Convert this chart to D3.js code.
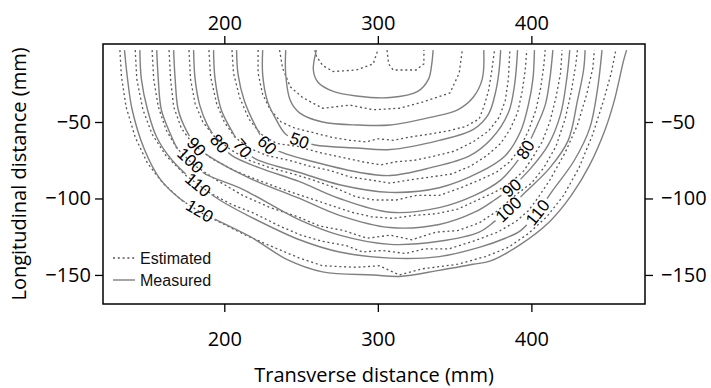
<!DOCTYPE html>
<html>
<head>
<meta charset="utf-8">
<script src="https://cdn.jsdelivr.net/npm/d3@7"></script>
<style>
  body { margin: 0; background: #fff; }
  svg { display: block; }
</style>
</head>
<body>
<svg id="chart" width="711" height="388"></svg>
<script>
// ---- Axis ticks ----
const xTicks = [200, 300, 400];
const yTicks = [-50, -100, -150];

// ---- Measured contours: [transverse mm, longitudinal mm] ----
const measured30  = [[260,-3],[258,-16],[261,-24],[271,-30],[286,-33],[308,-34],[326,-30],[333,-22],[335,-13],[336,-3]];
const measured40  = [[240,-3],[240,-19],[243,-36],[249,-44],[264,-50],[288,-52],[308,-52],[334,-47],[352,-42],[362,-34],[368,-22],[369,-3]];
const measured50  = [[225,-3],[225,-19],[228,-36],[233,-47],[240,-58],[249,-62],[259,-65],[286,-67],[308,-68],[340,-62],[362,-55],[372,-45],[377,-29],[379,-16],[380,-3]];
const measured60  = [[208,-3],[209,-19],[213,-36],[220,-52],[228,-65],[238,-70],[262,-77],[288,-83],[308,-85],[334,-80],[360,-72],[374,-61],[385,-44],[389,-26],[391,-3]];
const measured70  = [[193,-3],[194,-22],[198,-42],[205,-56],[212,-67],[220,-74],[249,-83],[275,-91],[308,-96],[340,-93],[366,-83],[383,-72],[393,-56],[398,-39],[401,-22],[402,-3]];
const measured80  = [[180,-3],[181,-22],[184,-39],[189,-52],[197,-64],[205,-72],[223,-80],[249,-89],[275,-100],[308,-109],[340,-106],[363,-98],[380,-88],[389,-78],[396,-68],[402,-56],[409,-39],[412,-22],[414,-3]];
const measured90  = [[167,-3],[168,-22],[170,-42],[175,-55],[182,-66],[191,-73],[217,-87],[249,-100],[275,-111],[308,-119],[340,-117],[363,-109],[376,-101],[387,-93],[399,-81],[411,-65],[419,-45],[423,-22],[425,-3]];
const measured100 = [[156,-3],[157,-22],[159,-42],[165,-58],[170,-68],[178,-75],[186,-83],[212,-94],[249,-114],[275,-124],[308,-130],[340,-128],[366,-122],[376,-115],[385,-107],[396,-96],[412,-80],[424,-62],[430,-36],[434,-16],[435,-3]];
const measured110 = [[145,-3],[146,-22],[150,-42],[156,-60],[166,-75],[183,-91],[197,-101],[217,-112],[249,-127],[275,-135],[308,-139],[340,-138],[366,-132],[383,-126],[393,-121],[404,-109],[413,-96],[428,-75],[438,-54],[443,-29],[446,-3]];
const measured120 = [[135,-3],[137,-22],[140,-42],[148,-68],[158,-87],[171,-100],[184,-108],[193,-113],[217,-125],[241,-140],[264,-148],[297,-150],[314,-151],[340,-147],[362,-143],[373,-141],[393,-130],[412,-115],[426,-98],[438,-78],[448,-55],[454,-36],[460,-10],[462,-3]];

// ---- Estimated contours ----
const estimated30a = [[259,-3],[260,-7],[264,-13],[271,-17],[286,-16],[297,-12],[300,-3]];
const estimated30b = [[306,-3],[307,-12],[310,-16],[325,-16],[330,-12],[330,-3]];
const estimated40  = [[236,-3],[238,-15],[243,-27],[251,-34],[264,-41],[282,-39],[297,-42],[314,-41],[329,-37],[347,-31],[353,-18],[355,-3]];
const estimated50  = [[222,-3],[222,-18],[225,-32],[230,-42],[237,-50],[246,-54],[258,-57],[270,-60],[282,-62],[292,-63],[300,-61],[310,-62],[320,-60],[333,-58],[345,-56],[357,-53],[366,-48],[369,-40],[372,-30],[374,-18],[376,-3]];
const estimated60  = [[205,-3],[206,-18],[210,-34],[216,-48],[224,-58],[234,-64],[248,-66],[262,-70],[276,-73],[290,-76],[302,-78],[312,-76],[324,-75],[338,-72],[350,-69],[362,-63],[372,-56],[379,-47],[383,-36],[385,-22],[386,-3]];
const estimated70  = [[190,-3],[191,-20],[195,-38],[200,-50],[207,-60],[216,-67],[228,-72],[242,-75],[256,-79],[270,-82],[282,-86],[296,-88],[308,-90],[320,-88],[334,-86],[348,-84],[360,-79],[371,-72],[380,-64],[386,-55],[391,-44],[394,-30],[396,-16],[397,-3]];
const estimated80  = [[177,-3],[178,-22],[181,-38],[186,-50],[194,-60],[204,-68],[216,-75],[230,-80],[245,-84],[258,-88],[272,-93],[286,-99],[298,-101],[312,-101],[325,-98],[340,-98],[354,-93],[366,-88],[377,-83],[386,-76],[392,-68],[398,-56],[403,-42],[406,-28],[408,-14],[409,-3]];
const estimated90  = [[164,-3],[165,-22],[167,-40],[172,-54],[180,-65],[192,-74],[207,-82],[222,-88],[238,-94],[253,-99],[268,-104],[283,-109],[296,-112],[310,-113],[324,-111],[338,-110],[352,-107],[365,-101],[376,-96],[386,-90],[395,-82],[401,-73],[407,-63],[412,-50],[416,-34],[419,-18],[420,-3]];
const estimated100 = [[153,-3],[154,-22],[157,-40],[162,-55],[169,-67],[180,-78],[195,-88],[212,-98],[230,-106],[248,-112],[262,-118],[278,-121],[293,-126],[308,-124],[322,-127],[338,-122],[352,-121],[366,-116],[378,-108],[386,-101],[392,-96],[400,-90],[408,-80],[416,-66],[422,-48],[426,-30],[429,-12],[430,-3]];
const estimated110 = [[142,-3],[143,-22],[147,-42],[153,-58],[162,-72],[175,-85],[190,-96],[205,-104],[220,-110],[236,-118],[250,-124],[264,-128],[280,-131],[290,-135],[303,-134],[318,-136],[330,-133],[346,-133],[362,-128],[378,-122],[390,-115],[398,-108],[404,-100],[412,-88],[422,-70],[430,-52],[436,-32],[440,-15],[441,-3]];
const estimated120 = [[132,-3],[133,-20],[136,-40],[142,-60],[150,-77],[160,-90],[172,-101],[186,-110],[200,-117],[214,-124],[230,-131],[249,-139],[264,-144],[286,-145],[301,-144],[314,-150],[329,-146],[352,-143],[370,-138],[385,-132],[398,-123],[410,-112],[421,-98],[431,-80],[440,-58],[447,-36],[452,-18],[455,-3]];

// ---- Contour label anchors (level, transverse mm, longitudinal mm) ----
const contourLabels = [
  [120, 184, -108], [110, 183, -91], [100, 178, -75], [90, 182, -66],
  [80, 197, -64], [70, 212, -67], [60, 228, -65], [50, 249, -62],
  [80, 396, -68], [90, 387, -93], [100, 385, -107], [110, 404, -109]
];

const measuredSets = [
  [30, measured30], [40, measured40], [50, measured50], [60, measured60], [70, measured70],
  [80, measured80], [90, measured90], [100, measured100], [110, measured110], [120, measured120]
];
const estimatedSets = [
  [30, estimated30a], [30, estimated30b], [40, estimated40], [50, estimated50], [60, estimated60],
  [70, estimated70], [80, estimated80], [90, estimated90], [100, estimated100], [110, estimated110],
  [120, estimated120]
];

// ---- Layout ----
const frame = { left: 103, right: 645, top: 44, bottom: 304 };
const svg = d3.select('#chart');
const x = d3.scaleLinear().domain([121, 474]).range([frame.left, frame.right]);
const y = d3.scaleLinear().domain([-169, 1]).range([frame.bottom, frame.top]);

const tickFont = '"Open Sans", "Noto Sans", sans-serif';
const labelFont = '"Liberation Sans", Arial, sans-serif';

const defs = svg.append('defs');
defs.append('clipPath').attr('id', 'plot-clip')
  .append('rect')
  .attr('x', frame.left).attr('y', frame.top)
  .attr('width', frame.right - frame.left).attr('height', frame.bottom - frame.top);

const smooth = d3.line().x(d => x(d[0])).y(d => y(d[1])).curve(d3.curveCatmullRom.alpha(0.5));
const jagged = d3.line().x(d => x(d[0])).y(d => y(d[1]));

const plot = svg.append('g').attr('clip-path', 'url(#plot-clip)');

// Contour labels: place text first so its length can size the gap in each line
const labelG = svg.append('g');
const gaps = {};
contourLabels.forEach(([level, lx, ly]) => {
  const pts = measuredSets.find(s => s[0] === level)[1];
  const px = x(lx), py = y(ly);
  let best = 0, bd = Infinity;
  pts.forEach((p, i) => {
    const d = (x(p[0]) - px) ** 2 + (y(p[1]) - py) ** 2;
    if (d < bd) { bd = d; best = i; }
  });
  const a = pts[Math.max(0, best - 1)], b = pts[Math.min(pts.length - 1, best + 1)];
  let ang = Math.atan2(y(b[1]) - y(a[1]), x(b[0]) - x(a[0])) * 180 / Math.PI;
  if (ang > 90) ang -= 180;
  if (ang < -90) ang += 180;
  const t = labelG.append('text')
    .attr('transform', `translate(${px},${py}) rotate(${ang})`)
    .attr('text-anchor', 'middle')
    .attr('dy', '0.36em')
    .attr('font-family', labelFont)
    .attr('font-size', 17)
    .attr('fill', '#000')
    .text(level);
  const len = t.node().getComputedTextLength();
  (gaps[level] = gaps[level] || []).push({ px, py, ang, len });
});

// A mask per labelled level cuts the line where its label sits
Object.keys(gaps).forEach(level => {
  const m = defs.append('mask').attr('id', `gap-${level}`).attr('maskUnits', 'userSpaceOnUse')
    .attr('x', 0).attr('y', 0).attr('width', 711).attr('height', 388);
  m.append('rect').attr('x', 0).attr('y', 0).attr('width', 711).attr('height', 388).attr('fill', '#fff');
  gaps[level].forEach(g => {
    m.append('rect')
      .attr('x', -g.len / 2 - 3).attr('y', -7)
      .attr('width', g.len + 6).attr('height', 14)
      .attr('transform', `translate(${g.px},${g.py}) rotate(${g.ang})`)
      .attr('fill', '#000');
  });
});

// Estimated (dotted)
plot.selectAll('path.est')
  .data(estimatedSets)
  .join('path')
  .attr('class', 'est')
  .attr('d', d => jagged(d[1]))
  .attr('fill', 'none')
  .attr('stroke', '#555')
  .attr('stroke-width', 1.3)
  .attr('stroke-dasharray', '2,2.8');

// Measured (solid)
plot.selectAll('path.meas')
  .data(measuredSets)
  .join('path')
  .attr('class', 'meas')
  .attr('d', d => smooth(d[1]))
  .attr('fill', 'none')
  .attr('stroke', '#808080')
  .attr('stroke-width', 1.4)
  .attr('mask', d => gaps[d[0]] ? `url(#gap-${d[0]})` : null);

labelG.raise();

// ---- Axes on all four sides ----
function styleAxis(g) {
  g.select('.domain').remove();
  g.selectAll('.tick line').attr('stroke', '#000').attr('stroke-width', 1.3);
  g.selectAll('.tick text').attr('font-family', tickFont).attr('font-size', 20).attr('fill', '#000');
}
svg.append('g').attr('transform', `translate(0,${frame.bottom})`)
  .call(d3.axisBottom(x).tickValues(xTicks).tickSize(8).tickPadding(20))
  .call(styleAxis);
svg.append('g').attr('transform', `translate(0,${frame.top})`)
  .call(d3.axisTop(x).tickValues(xTicks).tickSize(8).tickPadding(6))
  .call(styleAxis);
svg.append('g').attr('transform', `translate(${frame.left},0)`)
  .call(d3.axisLeft(y).tickValues(yTicks).tickSize(8).tickPadding(4))
  .call(styleAxis);
svg.append('g').attr('transform', `translate(${frame.right},0)`)
  .call(d3.axisRight(y).tickValues(yTicks).tickSize(8).tickPadding(8))
  .call(styleAxis);

svg.append('rect')
  .attr('x', frame.left).attr('y', frame.top)
  .attr('width', frame.right - frame.left).attr('height', frame.bottom - frame.top)
  .attr('fill', 'none').attr('stroke', '#000').attr('stroke-width', 1.5);

// ---- Axis titles ----
svg.append('text')
  .attr('x', (frame.left + frame.right) / 2).attr('y', 382)
  .attr('text-anchor', 'middle')
  .attr('font-family', tickFont).attr('font-size', 20)
  .text('Transverse distance (mm)');
svg.append('text')
  .attr('transform', `translate(26,${(frame.top + frame.bottom) / 2}) rotate(-90)`)
  .attr('text-anchor', 'middle')
  .attr('font-family', tickFont).attr('font-size', 20)
  .text('Longitudinal distance (mm)');

// ---- Legend ----
const legend = svg.append('g');
legend.append('line').attr('x1', 113).attr('x2', 135).attr('y1', 258).attr('y2', 258)
  .attr('stroke', '#555').attr('stroke-width', 1.3).attr('stroke-dasharray', '2,2.8');
legend.append('text').attr('x', 140).attr('y', 264)
  .attr('font-family', labelFont).attr('font-size', 16).attr('fill', '#111')
  .text('Estimated');
legend.append('line').attr('x1', 113).attr('x2', 135).attr('y1', 280).attr('y2', 280)
  .attr('stroke', '#808080').attr('stroke-width', 1.4);
legend.append('text').attr('x', 140).attr('y', 286)
  .attr('font-family', labelFont).attr('font-size', 16).attr('fill', '#111')
  .text('Measured');
</script>
</body>
</html>
